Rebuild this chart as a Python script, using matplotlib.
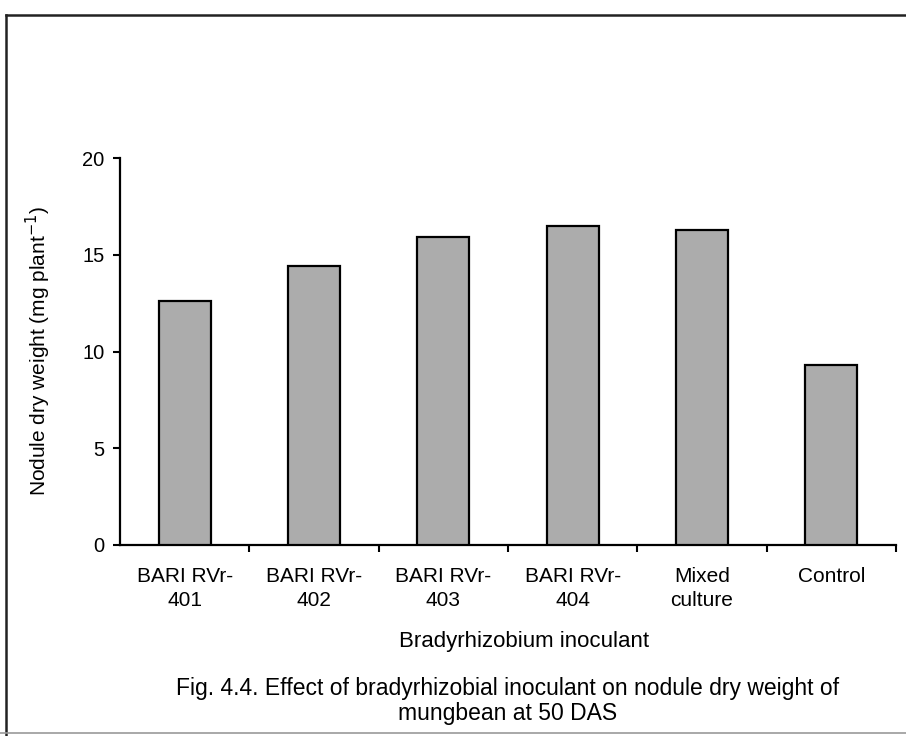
import matplotlib
matplotlib.use("Agg")
import matplotlib.pyplot as plt
from matplotlib.lines import Line2D

plt.rcParams['font.family'] = ['Liberation Sans', 'DejaVu Sans']

categories = ["BARI RVr-\n401", "BARI RVr-\n402", "BARI RVr-\n403", "BARI RVr-\n404", "Mixed\nculture", "Control"]
values = [12.6, 14.4, 15.9, 16.5, 16.3, 9.3]
yticks = [0, 5, 10, 15, 20]

W, H = 906, 736
fig = plt.figure(figsize=(W / 100, H / 100), dpi=100)
fig.patch.set_facecolor('white')

# page frame
fig.add_artist(Line2D([6 / W, 6 / W], [0, 1 - 15 / H], color='#222222', lw=1.8, transform=fig.transFigure))
fig.add_artist(Line2D([6 / W, 1], [1 - 15 / H, 1 - 15 / H], color='#222222', lw=1.8, transform=fig.transFigure))
fig.add_artist(Line2D([0, 1], [3 / H, 3 / H], color='#999999', lw=1.2, transform=fig.transFigure))

left, right, bottom, top = 120, 896, 545, 158
ax = fig.add_axes([left / W, 1 - bottom / H, (right - left) / W, (bottom - top) / H])

x = list(range(len(categories)))
ax.bar(x, values, width=0.4, color='#acacac', edgecolor='black', linewidth=1.6, zorder=3)

ax.set_xlim(-0.5, len(categories) - 0.5)
ax.set_ylim(0, 20)
ax.set_yticks(yticks)
ax.set_yticklabels([str(t) for t in yticks], fontsize=14.5)
ax.set_xticks(x)
ax.set_xticklabels(categories, fontsize=15, linespacing=1.35)
ax.tick_params(axis='x', which='major', length=0, pad=16)
ax.set_xticks([i + 0.5 for i in range(len(categories))], minor=True)
ax.tick_params(axis='x', which='minor', length=5, width=1.5, direction='out')
ax.tick_params(axis='y', length=5, width=1.5, direction='out', pad=6)

for s in ['top', 'right']:
    ax.spines[s].set_visible(False)
for s in ['left', 'bottom']:
    ax.spines[s].set_linewidth(1.6)

ax.set_ylabel("Nodule dry weight (mg plant$^{-1}$)", fontsize=15, labelpad=21)

fig.text(524 / W, 1 - 641 / H, "Bradyrhizobium inoculant", fontsize=16, ha='center', va='center')
fig.text(508 / W, 1 - 701 / H, "Fig. 4.4. Effect of bradyrhizobial inoculant on nodule dry weight of\nmungbean at 50 DAS",
         fontsize=16.5, ha='center', va='center', linespacing=1.15)

fig.savefig("out.png", dpi=100)
